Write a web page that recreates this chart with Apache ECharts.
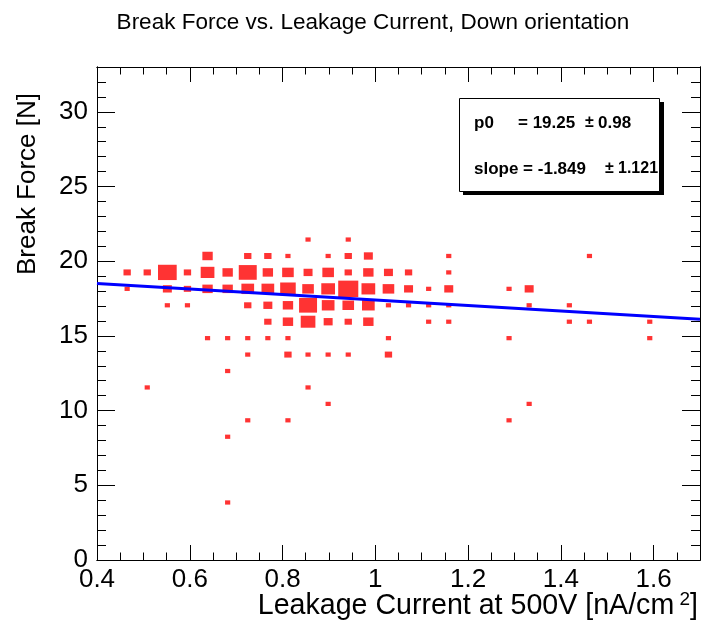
<!DOCTYPE html>
<html><head><meta charset="utf-8">
<script src="https://cdn.jsdelivr.net/npm/echarts@6/dist/echarts.min.js"></script>
<style>html,body{margin:0;padding:0;background:#fff}#c{width:703px;height:626px}</style>
</head><body><div id="c"></div>
<script>
// Histogram definition (30 x 30 bins)
const xRange = [0.4, 1.7];
const nBinsX = 30;
const yRange = [0, 33];
const nBinsY = 30;

// Filled cells: leakage-current bin index, break-force bin index, entries
const leakBin  = [1,1, 2,2, 3,3,3, 4,4,4, 5,5,5,5, 6,6,6,6,6,6, 7,7,7,7,7,7,7, 8,8,8,8,8,8,
                  9,9,9,9,9,9,9,9, 10,10,10,10,10,10,10, 11,11,11,11,11,11,11, 12,12,12,12,12,12,12,
                  13,13,13,13,13, 14,14,14,14,14, 15,15,15, 16,16,16, 17,17,17,17,17,
                  20,20,20, 21,21,21, 23,23, 24,24, 27,27];
const forceBin = [17,16, 17,10, 17,16,15, 17,16,15, 18,17,16,13, 17,16,13,11,7,3, 18,17,16,15,13,12,8, 18,17,16,15,14,13,
                  18,17,16,15,14,13,12,8, 19,17,16,15,14,12,10, 18,17,16,15,14,12,9, 19,18,17,16,15,14,12,
                  18,17,16,15,14, 17,16,15,13,12, 17,16,15, 16,15,14, 18,17,16,15,14,
                  16,13,8, 16,15,9, 15,14, 18,14, 14,13];
const counts   = [2,1, 2,1, 13,3,1, 2,2,1, 4,7,4,1, 4,4,1,1,1,1, 2,12,6,2,1,1,1, 2,4,6,3,2,1,
                  1,5,9,4,4,1,2,1, 1,3,5,12,8,1,1, 1,5,7,6,3,1,1, 1,2,2,15,5,2,1,
                  3,4,7,6,4, 3,5,1,1,2, 2,3,1, 1,1,1, 1,1,3,1,1,
                  1,1,1, 3,1,1, 1,1, 1,1, 1,1];

// Linear fit (pol1) drawn between the axis ends
const fitX = [0.4, 1.7];
const fitY = [18.51, 16.11];
const fitP0 = '19.25', fitP0Err = '0.98';
const fitSlope = '-1.849', fitSlopeErr = '1.121';

const titleText = 'Break Force vs. Leakage Current, Down orientation';
const xTitle = 'Leakage Current at 500V [nA/cm';
const yTitle = 'Break Force [N]';

const bw = (xRange[1] - xRange[0]) / nBinsX;
const bh = (yRange[1] - yRange[0]) / nBinsY;
const cmax = Math.max(...counts);
const cells = leakBin.map((ix, k) => [ix, forceBin[k], counts[k]]);

const FONT = "'Liberation Sans', Arial, Helvetica, sans-serif";
const tickStyle = {color: '#000', width: 1};
function xAx(pos, interval, len, labels) {
  return {type: 'value', position: pos, min: xRange[0], max: xRange[1], interval: interval,
    axisLine: {show: true, onZero: false, lineStyle: {color: '#000', width: 1}},
    axisTick: {show: true, inside: true, length: len, lineStyle: tickStyle},
    axisLabel: {show: labels, color: '#000', fontSize: 26, fontFamily: FONT, margin: 7,
      showMaxLabel: false, formatter: v => String(+v.toFixed(2))},
    splitLine: {show: false}};
}
function yAx(pos, interval, len, labels) {
  return {type: 'value', position: pos, min: yRange[0], max: yRange[1], interval: interval,
    axisLine: {show: true, onZero: false, lineStyle: {color: '#000', width: 1}},
    axisTick: {show: true, inside: true, length: len, lineStyle: tickStyle},
    axisLabel: {show: labels, color: '#000', fontSize: 26, fontFamily: FONT, margin: 9,
      showMaxLabel: false},
    splitLine: {show: false}};
}

const chart = echarts.init(document.getElementById('c'), null, {renderer: 'canvas'});
const B = 'bold 17px ' + FONT;
const B2 = 'bold 16px ' + FONT;
chart.setOption({
  animation: false,
  backgroundColor: '#fff',
  grid: {left: 97, top: 67, width: 603, height: 493, containLabel: false},
  xAxis: [xAx('bottom', 0.2, 15, true), xAx('bottom', 0.05, 7.5, false),
          xAx('top', 0.2, 15, false), xAx('top', 0.05, 7.5, false)],
  yAxis: [yAx('left', 5, 18, true), yAx('left', 1, 9, false),
          yAx('right', 5, 18, false), yAx('right', 1, 9, false)],
  series: [
    {type: 'custom', xAxisIndex: 0, yAxisIndex: 0, clip: true, data: cells,
     renderItem: function (params, api) {
       const i = api.value(0), j = api.value(1), c = api.value(2);
       const p = api.coord([xRange[0] + (i + 0.5) * bw, yRange[0] + (j + 0.5) * bh]);
       const s = api.size([bw, bh]);
       const f = Math.sqrt(c / cmax);
       return {type: 'rect',
         shape: {x: p[0] - s[0] * f / 2, y: p[1] - s[1] * f / 2, width: s[0] * f, height: s[1] * f},
         style: {fill: '#ff3333'}};
     }},
    {type: 'line', xAxisIndex: 0, yAxisIndex: 0, data: fitX.map((x, k) => [x, fitY[k]]),
     symbol: 'none', lineStyle: {color: '#0000ff', width: 3}, z: 5}
  ],
  graphic: [
    {type: 'text', x: 373, y: 23, style: {text: titleText, font: '22.5px ' + FONT, fill: '#000',
      align: 'center', verticalAlign: 'middle'}},
    {type: 'text', x: 698, y: 606, style: {
      text: '{a|' + xTitle + '}{s| 2}{a|]}', align: 'right', verticalAlign: 'middle',
      rich: {a: {fontSize: 28.6, fontFamily: FONT, fill: '#000', lineHeight: 32},
             s: {fontSize: 19, fontFamily: FONT, fill: '#000', verticalAlign: 'top', lineHeight: 32}}}},
    {type: 'text', x: 28, y: 184, rotation: Math.PI / 2, style: {
      text: yTitle, font: '26px ' + FONT, fill: '#000', align: 'center', verticalAlign: 'middle'}},
    {type: 'rect', shape: {x: 463, y: 102, width: 201, height: 93}, style: {fill: '#000'}},
    {type: 'rect', shape: {x: 459.5, y: 98.5, width: 200, height: 93}, style: {fill: '#fff', stroke: '#000', lineWidth: 1}},
    {type: 'text', x: 474, y: 123, style: {text: 'p0', font: B, fill: '#000', verticalAlign: 'middle'}},
    {type: 'text', x: 518, y: 123, style: {text: '= ' + fitP0, font: B, fill: '#000', verticalAlign: 'middle'}},
    {type: 'text', x: 585, y: 123, style: {text: '\u00b1', font: B2, fill: '#000', verticalAlign: 'middle'}},
    {type: 'text', x: 598, y: 123, style: {text: fitP0Err, font: B, fill: '#000', verticalAlign: 'middle'}},
    {type: 'text', x: 474, y: 169, style: {text: 'slope = ' + fitSlope, font: B, fill: '#000', verticalAlign: 'middle'}},
    {type: 'text', x: 605, y: 169, style: {text: '\u00b1', font: B2, fill: '#000', verticalAlign: 'middle'}},
    {type: 'text', x: 618, y: 169, style: {text: fitSlopeErr, font: B2, fill: '#000', verticalAlign: 'middle'}}
  ]
});
</script>
</body></html>
